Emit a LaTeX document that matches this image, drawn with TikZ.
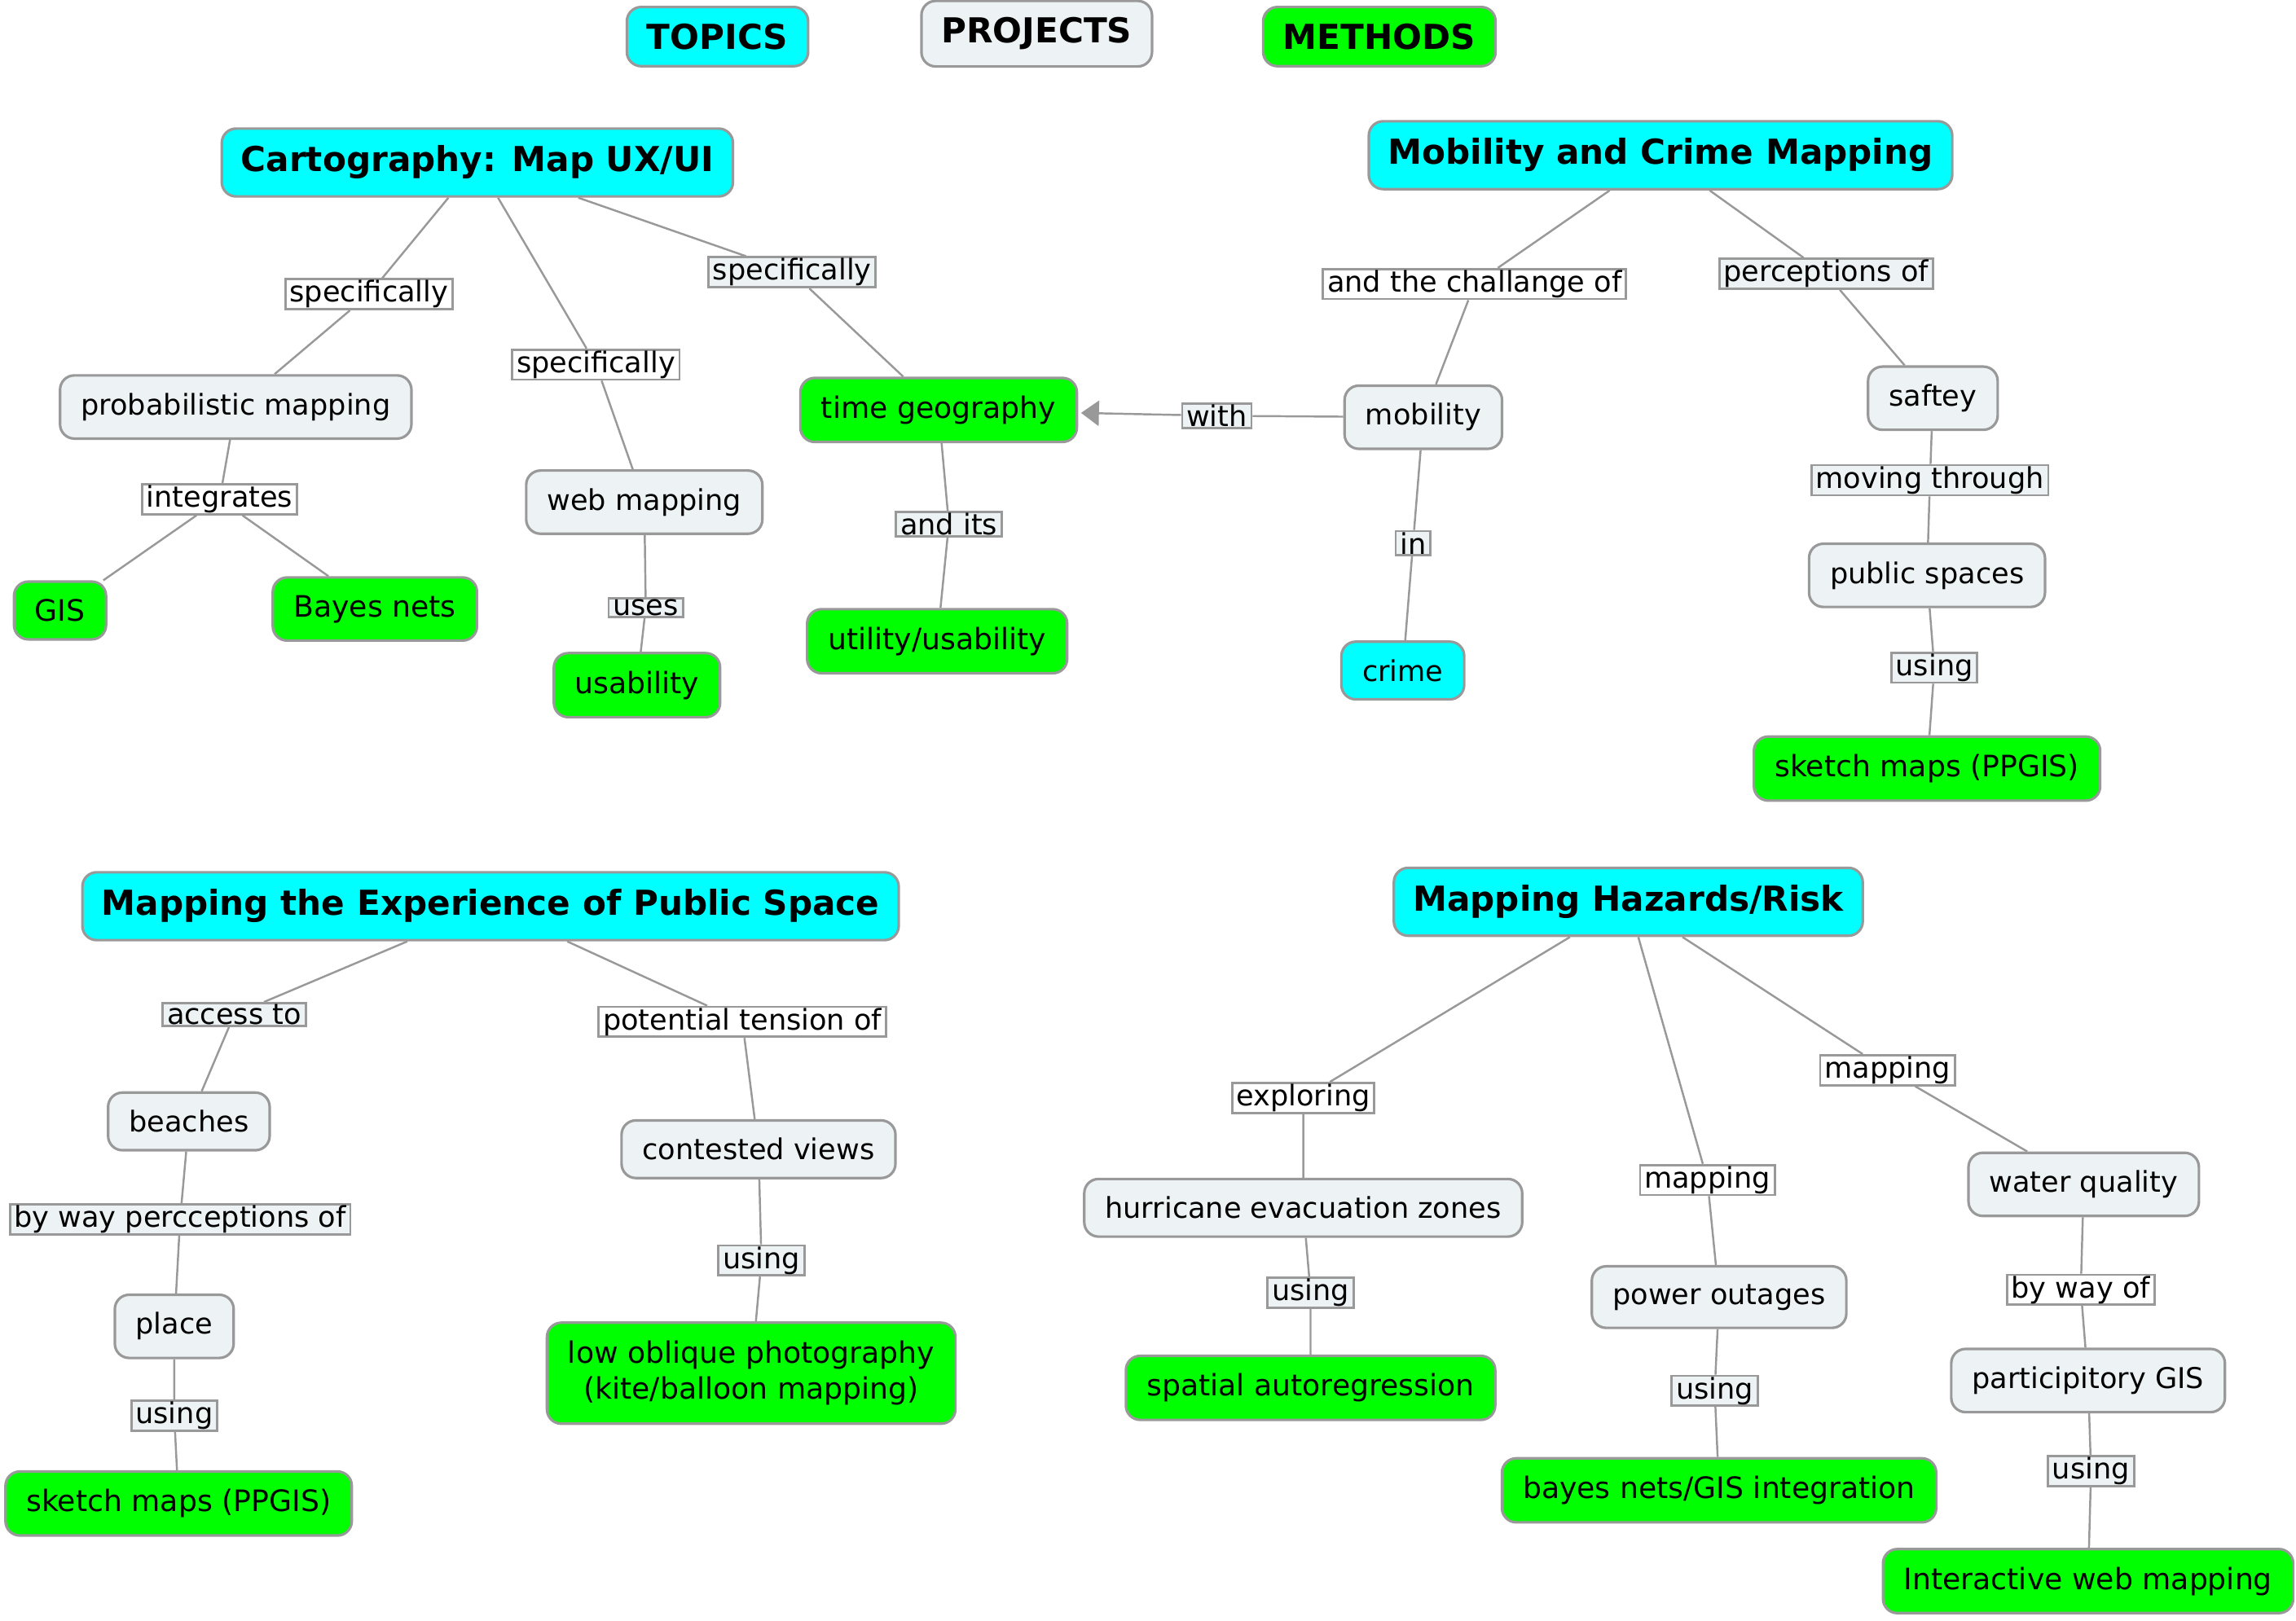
\documentclass[tikz,border=0pt]{standalone}
\usepackage{fontspec}
\setmainfont{DejaVu Sans}
\usetikzlibrary{arrows.meta}
\definecolor{TopicClr}{HTML}{00FFFF}
\definecolor{ProjectClr}{HTML}{EDF3F5}
\definecolor{MethodClr}{HTML}{00FF00}
\definecolor{EdgeClr}{HTML}{999999}

\tikzset{
  concept/.style={draw=EdgeClr, line width=0.9pt, rounded corners=5pt,
    inner xsep=7.3pt, inner ysep=6.2pt, font=\fontsize{10}{12.5}\selectfont},
  topic/.style={concept, fill=TopicClr},
  project/.style={concept, fill=ProjectClr},
  method/.style={concept, fill=MethodClr, font=\fontsize{10.3}{12.5}\selectfont},
  heading/.style={topic, inner xsep=6.7pt, inner ysep=6pt,
    font=\fontsize{12}{14}\selectfont\bfseries},
  legend/.style={heading, inner xsep=7pt, inner ysep=5.8pt},
  linkname/.style={draw=EdgeClr, line width=0.8pt, fill=white,
    inner xsep=1.5pt, inner ysep=0.4pt, font=\fontsize{10}{12}\selectfont},
  linklight/.style={linkname, fill=ProjectClr},
  link/.style={draw=EdgeClr, line width=0.7pt},
}

\begin{document}
\begin{tikzpicture}[x=0.01797cm,y=-0.01797cm]
\useasboundingbox (0,0) rectangle (1568,1107);

% legend
\node[legend] (topics) at (490,25) {TOPICS};
\node[legend, fill=ProjectClr] (projects) at (708,23) {PROJECTS};
\node[legend, fill=MethodClr] (methods) at (942,25) {METHODS};

% cartography
\node[heading] (carto) at (326,111) {Cartography: Map UX/UI};
\node[linkname] (c1) at (252,201) {specifically};
\node[project] (prob) at (161,278) {probabilistic mapping};
\node[linkname] (c2) at (407,249) {specifically};
\node[project] (web) at (440,343) {web mapping};
\node[linklight] (c3) at (541,186) {specifically};
\node[method] (timegeo) at (641,280) {time geography};
\node[linkname] (c4) at (150,341) {integrates};
\node[method] (gis) at (41,417) {GIS};
\node[method] (bayes) at (256,416) {Bayes nets};
\node[linklight] (c5) at (441,415) {uses};
\node[method] (usab) at (435,468) {usability};
\node[linklight] (c6) at (648,358) {and its};
\node[method] (utility) at (640,438) {utility/usability};

\draw[link] (carto) -- (c1) (c1) -- (prob);
\draw[link] (carto) -- (c2) (c2) -- (web);
\draw[link] (carto) -- (c3) (c3) -- (timegeo);
\draw[link] (prob) -- (c4) (c4) -- (gis) (c4) -- (bayes);
\draw[link] (web) -- (c5) (c5) -- (usab);
\draw[link] (timegeo) -- (c6) (c6) -- (utility);

% mobility and crime
\node[heading] (mob) at (1134,106) {Mobility and Crime Mapping};
\node[linkname] (m1) at (1007,194) {and the challange of};
\node[project] (mobility) at (972,285) {mobility};
\node[linklight] (m2) at (1247,187) {perceptions of};
\node[project] (safety) at (1320,272) {saftey};
\node[linklight] (m3) at (831,284) {with};
\node[linklight] (m4) at (965,371) {in};
\node[topic] (crime) at (958,458) {crime};
\node[linklight] (m5) at (1318,328) {moving through};
\node[project] (pubsp) at (1316,393) {public spaces};
\node[linklight] (m6) at (1321,456) {using};
\node[method] (sketchA) at (1316,525) {sketch maps (PPGIS)};

\draw[link] (mob) -- (m1) (m1) -- (mobility);
\draw[link] (mob) -- (m2) (m2) -- (safety);
\draw[link] (mobility) -- (m3);
\draw[link, -{Triangle[length=0.22cm,width=0.31cm]}, shorten >=1pt] (m3) -- (timegeo);
\draw[link] (mobility) -- (m4) (m4) -- (crime);
\draw[link] (safety) -- (m5) (m5) -- (pubsp);
\draw[link] (pubsp) -- (m6) (m6) -- (sketchA);

% public space
\node[heading] (pub) at (335,619) {Mapping the Experience of Public Space};
\node[linklight] (p1) at (160,693) {access to};
\node[project] (beach) at (129,766) {beaches};
\node[linkname] (p2) at (507,698) {potential tension of};
\node[project] (contest) at (518,785) {contested views};
\node[linklight] (p3) at (123,833) {by way percceptions of};
\node[project] (place) at (119,906) {place};
\node[linklight] (p4) at (119,967) {using};
\node[method] (sketchB) at (122,1027) {sketch maps (PPGIS)};
\node[linklight] (p5) at (520,861) {using};
\node[method, align=center, minimum height=1.24cm, inner ysep=0pt] (photo) at (513,938)
  {low oblique photography\\(kite/balloon mapping)};

\draw[link] (pub) -- (p1) (p1) -- (beach);
\draw[link] (pub) -- (p2) (p2) -- (contest);
\draw[link] (beach) -- (p3) (p3) -- (place);
\draw[link] (place) -- (p4) (p4) -- (sketchB);
\draw[link] (contest) -- (p5) (p5) -- (photo);

% hazards
\node[heading] (haz) at (1112,616) {Mapping Hazards/Risk};
\node[linkname] (h1) at (890,750) {exploring};
\node[project] (hurr) at (890,825) {hurricane evacuation zones};
\node[linkname] (h2) at (1166,806) {mapping};
\node[project] (power) at (1174,886) {power outages};
\node[linkname] (h3) at (1289,731) {mapping};
\node[project] (water) at (1423,809) {water quality};
\node[linklight] (h4) at (895,883) {using};
\node[method] (spatial) at (895,948) {spatial autoregression};
\node[linklight] (h5) at (1171,950) {using};
\node[method] (bayesgis) at (1174,1018) {bayes nets/GIS integration};
\node[linkname] (h6) at (1421,881) {by way of};
\node[project] (pgis) at (1426,943) {participitory GIS};
\node[linklight] (h7) at (1428,1005) {using};
\node[method] (iweb) at (1426,1080) {Interactive web mapping};

\draw[link] (haz) -- (h1) (h1) -- (hurr);
\draw[link] (haz) -- (h2) (h2) -- (power);
\draw[link] (haz) -- (h3) (h3) -- (water);
\draw[link] (hurr) -- (h4) (h4) -- (spatial);
\draw[link] (power) -- (h5) (h5) -- (bayesgis);
\draw[link] (water) -- (h6) (h6) -- (pgis);
\draw[link] (pgis) -- (h7) (h7) -- (iweb);
\end{tikzpicture}
\end{document}
